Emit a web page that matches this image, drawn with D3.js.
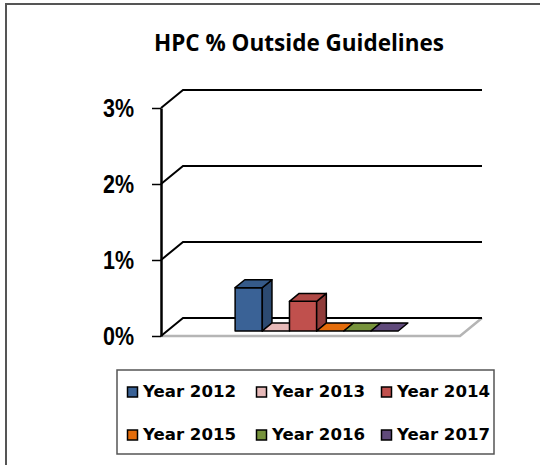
<!DOCTYPE html>
<html>
<head>
<meta charset="utf-8">
<script src="https://cdn.jsdelivr.net/npm/d3@7"></script>
<style>
  body { margin: 0; background: #fff; }
  .axis text { font-family: "Liberation Sans", Arial, sans-serif; font-weight: bold; font-size: 26px; fill: #000; }
  .title { font-family: "Open Sans", sans-serif; font-weight: bold; font-size: 22.5px; }
  .legend text { font-family: "DejaVu Sans", sans-serif; font-weight: bold; font-size: 16.5px; }
</style>
</head>
<body>
<svg id="chart" width="540" height="465"></svg>
<script>
const years = ['Year 2012', 'Year 2013', 'Year 2014', 'Year 2015', 'Year 2016', 'Year 2017'];
const values = [0.0057, 0, 0.0039, 0, 0, 0];
const colors = ['#3A6296', '#E6B9B8', '#C0504D', '#E46C0A', '#77933C', '#604A7B'];
const yTicks = [0, 0.01, 0.02, 0.03];
const chartTitle = 'HPC % Outside Guidelines';

const svg = d3.select('#chart');

// frame of the chart area (right / bottom edges fall outside the picture)
svg.append('rect')
  .attr('x', 6).attr('y', 4)
  .attr('width', 600).attr('height', 500)
  .attr('fill', '#fff')
  .attr('stroke', '#555').attr('stroke-width', 2);

const plot = { left: 161, right: 460, top: 108, bottom: 336 };
const depth = { dx: 22, dy: -18 };
const f0 = 0.28, f1 = 0.72;   // bars sit in the middle of the depth

const y = d3.scaleLinear().domain([0, 0.03]).range([plot.bottom, plot.top]);
const x = d3.scaleBand()
  .domain(years)
  .range([plot.left, plot.right])
  .paddingInner(0)
  .paddingOuter(2.5);

// floor
const y0 = y(0);
svg.append('polygon')
  .attr('points', [
    [plot.left, y0], [plot.right, y0],
    [plot.right + depth.dx, y0 + depth.dy], [plot.left + depth.dx, y0 + depth.dy]
  ].join(' '))
  .attr('fill', '#fff');
svg.append('path')
  .attr('d', `M${plot.left},${y0}H${plot.right}L${plot.right + depth.dx},${y0 + depth.dy}`)
  .attr('fill', 'none')
  .attr('stroke', '#b5b5b5').attr('stroke-width', 2.5);

// gridlines on back wall + diagonals
const grid = svg.append('g');
grid.selectAll('path')
  .data(yTicks)
  .enter()
  .append('path')
  .attr('d', d => `M${plot.left},${y(d)}L${plot.left + depth.dx},${y(d) + depth.dy}H${plot.right + depth.dx}`)
  .attr('fill', 'none')
  .attr('stroke', '#000').attr('stroke-width', 2);

// y axis
const axis = svg.append('g')
  .attr('class', 'axis')
  .attr('transform', `translate(${plot.left},0)`)
  .call(d3.axisLeft(y)
    .tickValues(yTicks)
    .tickFormat(d3.format('.0%'))
    .tickSize(9)
    .tickSizeOuter(0)
    .tickPadding(18));
axis.select('.domain').attr('stroke', '#000').attr('stroke-width', 2.5);
axis.selectAll('.tick line').attr('stroke', '#000').attr('stroke-width', 1.5);
// the labels use a narrow face in the original
axis.selectAll('.tick text')
  .attr('textLength', 31)
  .attr('lengthAdjust', 'spacingAndGlyphs');

// bars
const bars = svg.append('g');
years.forEach((yr, i) => {
  const v = values[i];
  const c = d3.color(colors[i]);
  const w = x.bandwidth();
  const bx = x(yr) + f0 * depth.dx;
  const yb = y(0) + f0 * depth.dy;
  const yt = y(v) + f0 * depth.dy;
  const ddx = (f1 - f0) * depth.dx;
  const ddy = (f1 - f0) * depth.dy;
  const g = bars.append('g')
    .attr('stroke', '#000').attr('stroke-width', 1.5)
    .attr('stroke-linejoin', 'round');
  if (v > 0) {
    g.append('rect')
      .attr('x', bx).attr('y', yt)
      .attr('width', w).attr('height', yb - yt)
      .attr('fill', c.formatHex());
    g.append('polygon')
      .attr('points', [[bx + w, yt], [bx + w + ddx, yt + ddy], [bx + w + ddx, yb + ddy], [bx + w, yb]].join(' '))
      .attr('fill', c.darker(0.8).formatHex());
  }
  g.append('polygon')
    .attr('points', [[bx, yt], [bx + w, yt], [bx + w + ddx, yt + ddy], [bx + ddx, yt + ddy]].join(' '))
    .attr('fill', v > 0 ? c.darker(0.25).formatHex() : c.formatHex());
});

// title
svg.append('text')
  .attr('class', 'title')
  .attr('x', 299).attr('y', 51)
  .attr('text-anchor', 'middle')
  .text(chartTitle);

// legend
const legend = svg.append('g').attr('class', 'legend');
legend.append('rect')
  .attr('x', 117).attr('y', 370)
  .attr('width', 377).attr('height', 84)
  .attr('fill', 'none')
  .attr('stroke', '#555').attr('stroke-width', 1.5);
const colX = [127, 256, 381];
const rowY = [397, 440];
const items = legend.selectAll('g.item')
  .data(years)
  .enter()
  .append('g')
  .attr('class', 'item')
  .attr('transform', (d, i) => `translate(${colX[i % 3]},${rowY[Math.floor(i / 3)]})`);
items.append('rect')
  .attr('x', 0.5).attr('y', -10)
  .attr('width', 10).attr('height', 10)
  .attr('fill', (d, i) => colors[i])
  .attr('stroke', '#000').attr('stroke-width', 1.5);
items.append('text')
  .attr('x', 16).attr('y', 0)
  .attr('textLength', 93)
  .attr('lengthAdjust', 'spacingAndGlyphs')
  .text(d => d);
</script>
</body>
</html>
